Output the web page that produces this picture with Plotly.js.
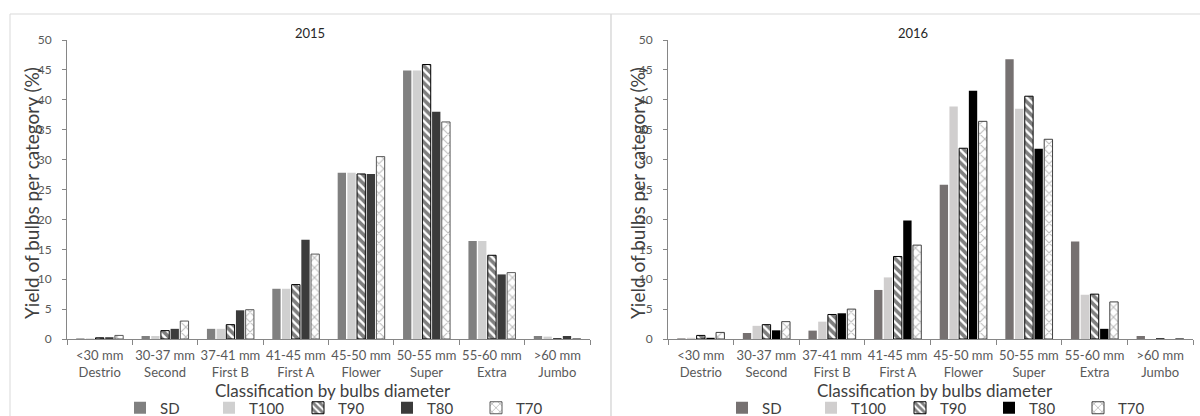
<!DOCTYPE html>
<html>
<head>
<meta charset="utf-8">
<script src="https://cdn.plot.ly/plotly-3.0.1.min.js"></script>
<style>html,body{margin:0;padding:0;background:#fff}#chart{width:1200px;height:416px}</style>
</head>
<body>
<div id="chart"></div>
<script>
// ---- data ----
const sizes = ["&lt;30 mm", "30-37 mm", "37-41 mm", "41-45 mm", "45-50 mm", "50-55 mm", "55-60 mm", "&gt;60 mm"];
const grades = ["Destrio", "Second", "First B", "First A", "Flower", "Super", "Extra", "Jumbo"];
const seriesNames = ["SD", "T100", "T90", "T80", "T70"];

const y2015_SD   = [0.1, 0.5, 1.7, 8.4, 27.8, 44.9, 16.4, 0.5];
const y2015_T100 = [0.1, 0.5, 1.7, 8.4, 27.8, 44.9, 16.4, 0.4];
const y2015_T90  = [0.2, 1.4, 2.4, 9.1, 27.6, 45.9, 14.0, 0.0];
const y2015_T80  = [0.3, 1.7, 4.8, 16.6, 27.6, 38.0, 10.8, 0.5];
const y2015_T70  = [0.6, 3.0, 4.9, 14.2, 30.5, 36.3, 11.1, 0.0];

const y2016_SD   = [0.1, 1.0, 1.4, 8.2, 25.8, 46.8, 16.3, 0.5];
const y2016_T100 = [0.2, 2.2, 2.9, 10.3, 38.9, 38.5, 7.4, 0.0];
const y2016_T90  = [0.6, 2.4, 4.1, 13.8, 31.9, 40.6, 7.5, 0.0];
const y2016_T80  = [0.2, 1.45, 4.3, 19.8, 41.5, 31.8, 1.7, 0.0];
const y2016_T70  = [1.1, 2.9, 5.0, 15.7, 36.4, 33.4, 6.2, 0.0];

const categories = sizes.map((s, i) => s + "<br>" + grades[i]);

// ---- styles ----
const FONT = "Lato, 'Open Sans', sans-serif";
const W = 1200, H = 416;
const px = v => v / W;
const py = v => 1 - v / H;

function style(name, year) {
  const dark = year === 2016;
  switch (name) {
    case "SD":   return {color: dark ? "#767171" : "#808080", line: {width: 0}};
    case "T100": return {color: dark ? "#d0cece" : "#d0d0d0", line: {width: 0}};
    case "T90":  return {color: "#ffffff", line: {color: "#000000", width: 1},
                         pattern: {shape: "\\", fgcolor: "#000000", bgcolor: "#ffffff", size: 6, solidity: 0.6, fillmode: "overlay"}};
    case "T80":  return {color: dark ? "#000000" : "#3b3b3b", line: {width: 0}};
    case "T70":  return {color: "#ffffff", line: {color: dark ? "#404040" : "#595959", width: 1},
                         pattern: {shape: "x", fgcolor: "#7a7a7a", bgcolor: "#ffffff", size: 7, solidity: 0.28, fillmode: "overlay"}};
  }
}

const data2015 = [y2015_SD, y2015_T100, y2015_T90, y2015_T80, y2015_T70];
const data2016 = [y2016_SD, y2016_T100, y2016_T90, y2016_T80, y2016_T70];

const traces = [];
seriesNames.forEach((n, i) => {
  traces.push({type: "bar", name: n, x: categories, y: data2015[i], xaxis: "x", yaxis: "y",
               marker: style(n, 2015), legend: "legend", hoverinfo: "x+y+name"});
});
seriesNames.forEach((n, i) => {
  traces.push({type: "bar", name: n, x: categories, y: data2016[i], xaxis: "x2", yaxis: "y2",
               marker: style(n, 2016), legend: "legend2", hoverinfo: "x+y+name"});
});

const axisLine = "#868686";
const yTickFont = {family: FONT, size: 12, color: "#595959"};
const xTickFont = {family: FONT, size: 13, color: "#595959"};

function xax(domain, anchor) {
  return {domain: domain, anchor: anchor, type: "category", showline: true, linecolor: axisLine, linewidth: 1,
          ticks: "outside", tickson: "boundaries", ticklen: 5, tickcolor: axisLine, tickfont: xTickFont,
          tickangle: 0, showgrid: false, zeroline: false, fixedrange: true, ticklabelstandoff: 4};
}
function yax(domain, anchor) {
  return {domain: domain, anchor: anchor, range: [0, 50], dtick: 5, showline: true, linecolor: axisLine, linewidth: 1,
          ticks: "outside", ticklen: 4, tickcolor: axisLine, tickfont: yTickFont, showgrid: false, zeroline: false,
          fixedrange: true, ticklabelstandoff: 8};
}

const yDom = [1 - 339 / H, 1 - 40 / H];

const legendBase = {orientation: "h", font: {family: FONT, size: 15, color: "#404040"}, bgcolor: "rgba(0,0,0,0)",
                    entrywidth: 44, entrywidthmode: "pixels", itemwidth: 30, xanchor: "left", yanchor: "middle",
                    y: py(408), tracegroupgap: 0, traceorder: "normal"};

const annFont = {family: FONT, size: 19, color: "#404040"};
const xtFont = {family: FONT, size: 17, color: "#404040"};
const layout = {
  width: W, height: H, margin: {l: 0, r: 0, t: 0, b: 0, autoexpand: false}, paper_bgcolor: "#ffffff", plot_bgcolor: "rgba(0,0,0,0)",
  barmode: "group", bargap: 0.26, bargroupgap: 0.14, showlegend: true,
  xaxis: xax([px(67), px(590)], "y"),
  yaxis: yax(yDom, "x"),
  xaxis2: xax([px(668), px(1193)], "y2"),
  yaxis2: yax(yDom, "x2"),
  legend: Object.assign({}, legendBase, {x: px(120)}),
  legend2: Object.assign({}, legendBase, {x: px(722)}),
  shapes: [
    {type: "rect", xref: "paper", yref: "paper", x0: px(10), x1: px(611), y0: -0.1, y1: py(14), line: {color: "#d9d9d9", width: 1}, layer: "below"},
    {type: "rect", xref: "paper", yref: "paper", x0: px(611), x1: 1.02, y0: -0.1, y1: py(14), line: {color: "#d9d9d9", width: 1}, layer: "below"}
  ],
  annotations: [
    {text: "2015", xref: "paper", yref: "paper", x: px(310), y: py(33), showarrow: false, xanchor: "center", yanchor: "middle", font: {family: FONT, size: 13, color: "#262626"}},
    {text: "2016", xref: "paper", yref: "paper", x: px(913), y: py(33), showarrow: false, xanchor: "center", yanchor: "middle", font: {family: FONT, size: 13, color: "#262626"}},
    {text: "Yield of bulbs per category (%)", xref: "paper", yref: "paper", x: px(31), y: py(193), textangle: -90, showarrow: false, xanchor: "center", yanchor: "middle", font: annFont},
    {text: "Yield of bulbs per category (%)", xref: "paper", yref: "paper", x: px(637), y: py(193), textangle: -90, showarrow: false, xanchor: "center", yanchor: "middle", font: annFont},
    {text: "Classification by bulbs diameter", xref: "paper", yref: "paper", x: px(333), y: py(390), showarrow: false, xanchor: "center", yanchor: "middle", font: xtFont},
    {text: "Classification by bulbs diameter", xref: "paper", yref: "paper", x: px(935), y: py(390), showarrow: false, xanchor: "center", yanchor: "middle", font: xtFont}
  ]
};

Plotly.newPlot("chart", traces, layout, {displayModeBar: false, staticPlot: true});
</script>
</body>
</html>
